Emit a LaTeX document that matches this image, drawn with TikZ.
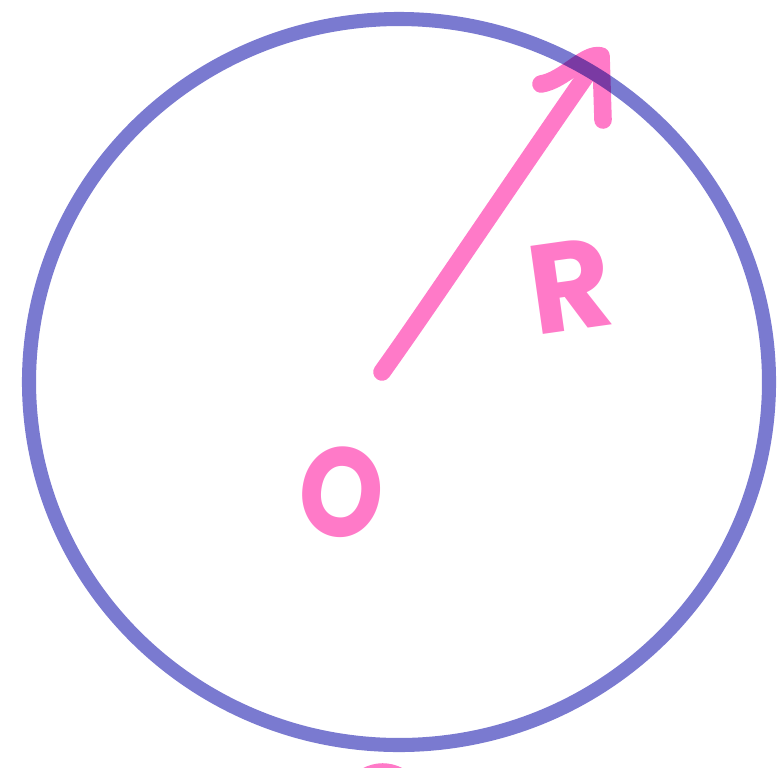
\documentclass[tikz,border=0pt]{standalone}
\usepackage{fontspec}
\newfontfamily\handfont{Poppins}
\definecolor{RingBlue}{RGB}{122, 122, 208}
\definecolor{PenPink}{RGB}{255, 122, 200}
\tikzset{
  pen/.style={PenPink, line width=5pt, line cap=round, line join=round},
  letter/.style={PenPink, font=\handfont\bfseries\fontsize{36}{36}\selectfont, inner sep=0pt}
}

\begin{document}
\begin{tikzpicture}[x=0.01cm, y=-0.01cm]
    \useasboundingbox (0,0) rectangle (780,767);
    % radius arrow
    \coordinate (centre) at (382,372);
    \coordinate (tip) at (590,70);
    \draw[pen] (centre) .. controls (430,305) and (520,170) .. (tip);
    \draw[pen] (541,84) .. controls (565,80) and (585,52) .. (601,56) -- (603,120);
    \node[letter, rotate=8] (rlabel) at (570,286) {R};
    \node[letter, rotate=-8, xscale=0.85] (olabel) at (342,492) {O};
    \draw[pen] (350,790) .. controls (370,766) and (395,766) .. (416,790);
    % circle
    \begin{scope}[blend mode=multiply]
      \draw[RingBlue, line width=4pt] (399,382) ellipse [x radius=370, y radius=363];
    \end{scope}
  \end{tikzpicture}
\end{document}
